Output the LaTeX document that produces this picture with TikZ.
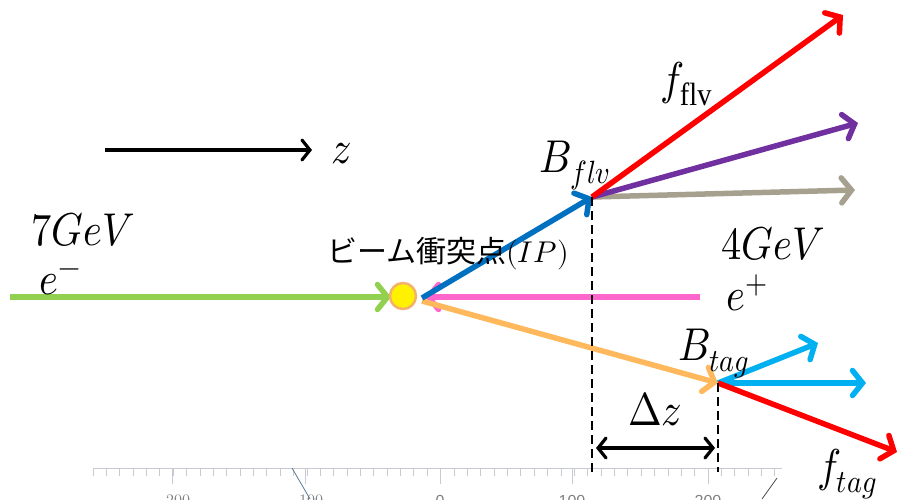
\documentclass[tikz,border=0pt]{standalone}
\usepackage{fontspec}
\usepackage{unicode-math}
\setmainfont{Liberation Serif}
\newfontfamily\jpfont{Noto Sans CJK JP}
\newfontfamily\rulerfont{Liberation Sans}
\usetikzlibrary{arrows.meta,calc}
\definecolor{cgreen}{HTML}{92D050}
\definecolor{cpink}{HTML}{FF66CC}
\definecolor{cblue}{HTML}{0070C0}
\definecolor{cred}{HTML}{FF0000}
\definecolor{cpurple}{HTML}{7030A0}
\definecolor{cgray}{HTML}{A6A18F}
\definecolor{corange}{HTML}{FFB95C}
\definecolor{ccyan}{HTML}{00B0F0}
\definecolor{cyellowb}{HTML}{F4B16A}
\definecolor{cruler}{HTML}{C8CCD2}
\tikzset{
  beam/.style={line width=5.5pt,-{Straight Barb[length=10pt,width=25pt,line width=5.5pt,line cap=round]}},
  lbl/.style={inner sep=0pt,anchor=base,xscale=0.88},
  dashline/.style={dashed,dash pattern=on 9pt off 5pt,line width=2pt},
  bk/.style={line width=3.2pt},
}
\newcommand{\mf}{\fontsize{46}{46}\selectfont}
\begin{document}
\begin{tikzpicture}[x=1pt,y=-1pt]
\useasboundingbox (0,0) rectangle (902,499);
\clip (0,0) rectangle (902,499);
% ruler
\draw[cruler,line width=0.8pt] (93,468) -- (782,468);
\foreach \i in {0,...,51}{
  \draw[cruler,line width=0.8pt] ({93+\i*13.37},468) -- ++(0,8);
}
\foreach \x/\t in {172/$-200$,305/$-100$,440/0,572/100,708/200}{
  \draw[cruler,line width=0.8pt] (\x,468) -- ++(0,16);
  \node[text=gray,font=\rulerfont\fontsize{16}{16}\selectfont,anchor=north,inner sep=0pt] (rl\x) at (\x,495) {\t};
}
\draw[cblue!30!gray,line width=0.8pt] (292,468) -- (310,499);
\draw[black!70,line width=0.8pt] (777,478) -- (762,499);
% coordinates
\coordinate (ip) at (403,296);
\coordinate (zs) at (105,150);
\coordinate (ze) at (312,150);
\coordinate (gs) at (10,297);
\coordinate (ge) at (391,297);
\coordinate (ps) at (700,297);
\coordinate (pe) at (425,297);
\coordinate (bf0) at (422,298);
\coordinate (bf) at (592,197);
\coordinate (ffe) at (843,15);
\coordinate (pue) at (858,123);
\coordinate (gre) at (855,190);
\coordinate (bt0) at (422,301);
\coordinate (bt) at (718,383);
\coordinate (c1e) at (818,343);
\coordinate (c2e) at (866,383);
\coordinate (fte) at (897,452);
\coordinate (d1b) at (592,472);
\coordinate (d2b) at (718,472);
\coordinate (dzs) at (596,448);
\coordinate (dze) at (715,448);
% z axis
\draw[bk,-{Straight Barb[length=8pt,width=20pt,line width=3.2pt,line cap=round]}] (zs) -- (ze);
\node[lbl] (zl) at (342,163) {\mf$z$};
% beams
\draw[beam,cgreen] (gs) -- (ge);
\draw[beam,cpink] (ps) -- (pe);
\draw[beam,corange] (bt0) -- (bt);
\draw[beam,cblue] (bf0) -- (bf);
\draw[beam,cgray] (bf) -- (gre);
\draw[beam,cpurple] (bf) -- (pue);
\draw[beam,cred] (bf) -- (ffe);
\draw[beam,ccyan] (bt) -- (c1e);
\draw[beam,ccyan] (bt) -- (c2e);
\draw[beam,cred] (bt) -- (fte);
% IP
\node[circle,fill=yellow,draw=cyellowb,line width=2.5pt,minimum size=26pt,inner sep=0pt] (ipc) at (ip) {};
% dashed lines
\draw[dashline] (bf) -- (d1b);
\draw[dashline] (bt) -- (d2b);
% delta z
\draw[bk,{Straight Barb[length=8pt,width=20pt,line width=3.2pt,line cap=round]}-{Straight Barb[length=8pt,width=20pt,line width=3.2pt,line cap=round]}] (dzs) -- (dze);
% labels
\node[lbl] (dzl) at (655,425) {\mf$\Delta z$};
\node[lbl] (ffl) at (686,94) {\mf$f_{\mathrm{flv}}$};
\node[lbl] (bfl) at (575,172) {\mf$B_{flv}$};
\node[lbl] (btl) at (714,360) {\mf$B_{tag}$};
\node[lbl] (ftl) at (847,481) {\mf$f_{tag}$};
\node[lbl] (g7) at (83,245) {\mf$7GeV$};
\node[lbl] (em) at (60,294) {\mf$e^{-}$};
\node[lbl] (g4) at (773,259) {\mf$4GeV$};
\node[lbl] (ep) at (747,310) {\mf$e^{+}$};
\node[inner sep=0pt,anchor=base] (ipl) at (448,262) {\jpfont\fontsize{30}{30}\selectfont ビーム衝突点$(IP)$};
\end{tikzpicture}
\end{document}
